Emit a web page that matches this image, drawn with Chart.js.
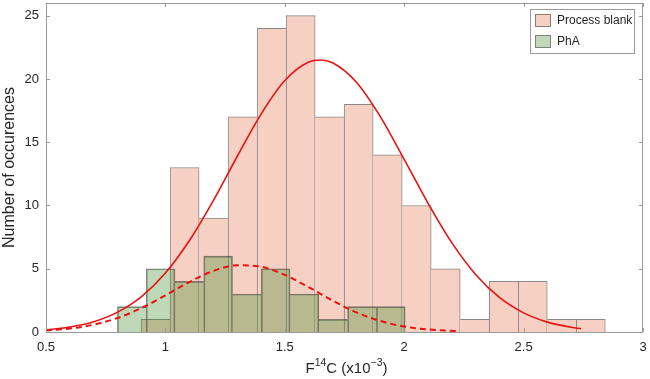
<!DOCTYPE html>
<html>
<head>
<meta charset="utf-8">
<script src="https://cdn.jsdelivr.net/npm/chart.js@4.4.0/dist/chart.umd.min.js"></script>
<style>
  html, body { margin: 0; padding: 0; background: #fff; }
</style>
</head>
<body>
<canvas id="hist" width="650" height="379"></canvas>
<script>
// histogram bins (bin centres, F14C x10^-3) and counts
const blankCenters = [0.9588, 1.0803, 1.2018, 1.3233, 1.4448, 1.5663, 1.6878, 1.8093,
                      1.9308, 2.0523, 2.1738, 2.2953, 2.4168, 2.5383, 2.6598, 2.7813];
const blankCounts  = [1, 13, 9, 17, 24, 25, 17, 18, 14, 10, 5, 1, 4, 4, 1, 1];
const phaCenters   = [0.8593, 0.9798, 1.1003, 1.2208, 1.3413, 1.4618, 1.5823, 1.7028, 1.8233, 1.9438];
const phaCounts    = [2, 5, 4, 6, 3, 5, 3, 1, 2, 2];

// fitted normal curves
const blankFitX = [0.5, 0.6, 0.7, 0.8, 0.9, 1.0, 1.1, 1.2, 1.3, 1.4, 1.5, 1.6, 1.65, 1.7,
                   1.8, 1.9, 2.0, 2.1, 2.2, 2.3, 2.4, 2.5, 2.6, 2.7, 2.74];
const blankFitY = [0.18, 0.39, 0.81, 1.57, 2.80, 4.66, 7.21, 10.36, 13.85, 17.2, 19.87, 21.33, 21.5, 21.28,
                   19.74, 17.02, 13.64, 10.17, 7.04, 4.53, 2.71, 1.51, 0.78, 0.37, 0.27];
const phaFitX = [0.5, 0.6, 0.7, 0.8, 0.9, 1.0, 1.1, 1.2, 1.3, 1.4, 1.5, 1.6, 1.7, 1.8, 1.9, 2.0, 2.1, 2.22];
const phaFitY = [0.12, 0.27, 0.58, 1.11, 1.90, 2.89, 3.95, 4.82, 5.27, 5.16, 4.51, 3.54, 2.48, 1.55, 0.87, 0.44, 0.20, 0.07];

const xTicks = [0.5, 1, 1.5, 2, 2.5, 3];
const yTicks = [0, 5, 10, 15, 20, 25];

// x title pieces: [text, superscript?]
const xTitle = [['F', false], ['14', true], ['C (x10', false], ['\u22123', true], [')', false]];

const FONT = '"Liberation Sans", Arial, Helvetica, sans-serif';
const TXT = '#262626';
const AXIS = '#9a9a9a';
const PINK = 'rgb(246,208,195)';
const GREEN = 'rgba(60,140,40,0.33)';
const EDGE = 'rgba(40,40,40,0.55)';
const RED = 'rgb(232,18,18)';

// only draw a shared edge once
function edges(counts) {
  return (ctx) => {
    const i = ctx.dataIndex;
    const prev = counts[i - 1], next = counts[i + 1];
    return {
      top: 1, bottom: 0,
      left: (prev === undefined || prev <= counts[i]) ? 1 : 0,
      right: (next === undefined || next < counts[i]) ? 1 : 0
    };
  };
}

const pts = (xs, ys) => xs.map((x, i) => ({ x: x, y: ys[i] }));

// box around the plot with inward ticks (matlab style), x title, legend
const frame = {
  id: 'frame',
  afterDraw(chart) {
    const { ctx, chartArea: a, scales } = chart;
    ctx.save();
    ctx.strokeStyle = AXIS;
    ctx.lineWidth = 1;
    ctx.strokeRect(Math.round(a.left) + 0.5, Math.round(a.top) + 0.5,
                   Math.round(a.right - a.left) - 1, Math.round(a.bottom - a.top));
    ctx.beginPath();
    xTicks.forEach(v => {
      const px = Math.round(scales.x.getPixelForValue(v)) + 0.5;
      ctx.moveTo(px, a.bottom); ctx.lineTo(px, a.bottom - 4);
      ctx.moveTo(px, a.top); ctx.lineTo(px, a.top + 4);
    });
    yTicks.forEach(v => {
      const py = Math.round(scales.y.getPixelForValue(v)) + 0.5;
      ctx.moveTo(a.left, py); ctx.lineTo(a.left + 4, py);
      ctx.moveTo(a.right, py); ctx.lineTo(a.right - 4, py);
    });
    ctx.stroke();

    // x axis title with real superscripts
    ctx.fillStyle = TXT;
    ctx.textBaseline = 'alphabetic';
    const fontOf = sup => (sup ? '10.5px ' : '15px ') + FONT;
    let total = 0;
    xTitle.forEach(([t, sup]) => { ctx.font = fontOf(sup); total += ctx.measureText(t).width; });
    let tx = (a.left + a.right) / 2 + 2 - total / 2;
    xTitle.forEach(([t, sup]) => {
      ctx.font = fontOf(sup);
      ctx.fillText(t, tx, sup ? 366 : 373);
      tx += ctx.measureText(t).width;
    });

    // legend
    const lx = 530.5, ly = 9.5, lw = 104, lh = 44;
    ctx.fillStyle = '#fff';
    ctx.fillRect(lx, ly, lw, lh);
    ctx.strokeStyle = AXIS;
    ctx.strokeRect(lx, ly, lw, lh);
    const items = [chart.data.datasets[3], chart.data.datasets[2]];
    items.forEach((ds, k) => {
      const sy = 14.5 + k * 21;
      ctx.fillStyle = ds.backgroundColor;
      ctx.fillRect(535.5, sy, 15, 12);
      ctx.strokeStyle = EDGE;
      ctx.strokeRect(535.5, sy, 15, 12);
      ctx.fillStyle = TXT;
      ctx.font = '12px ' + FONT;
      ctx.textBaseline = 'middle';
      ctx.fillText(ds.label, 557, sy + 6.5);
    });
    ctx.restore();
  }
};

const noPad = s => { s.paddingLeft = 0; s.paddingRight = 0; s.paddingTop = 0; s.paddingBottom = 0; };

new Chart(document.getElementById('hist'), {
  type: 'bar',
  data: {
    datasets: [
      {
        type: 'line', label: 'Process blank fit', data: pts(blankFitX, blankFitY),
        borderColor: RED, borderWidth: 1.6, pointRadius: 0, cubicInterpolationMode: 'monotone',
        order: 0, xAxisID: 'x'
      },
      {
        type: 'line', label: 'PhA fit', data: pts(phaFitX, phaFitY),
        borderColor: RED, borderWidth: 2, borderDash: [6, 4], pointRadius: 0,
        cubicInterpolationMode: 'monotone', order: 0, xAxisID: 'x'
      },
      {
        label: 'PhA', data: pts(phaCenters, phaCounts),
        backgroundColor: GREEN, borderColor: EDGE, borderWidth: edges(phaCounts),
        borderSkipped: false, order: 1, xAxisID: 'x2',
        barPercentage: 1, categoryPercentage: 1, grouped: false
      },
      {
        label: 'Process blank', data: pts(blankCenters, blankCounts),
        backgroundColor: PINK, borderColor: EDGE, borderWidth: edges(blankCounts),
        borderSkipped: false, order: 2, xAxisID: 'x',
        barPercentage: 1, categoryPercentage: 1, grouped: false
      }
    ]
  },
  options: {
    responsive: false,
    animation: false,
    devicePixelRatio: 1,
    layout: { padding: { top: 3, right: 7, left: 0, bottom: 0 } },
    plugins: { legend: { display: false }, tooltip: { enabled: false } },
    scales: {
      x: {
        type: 'linear', min: 0.5, max: 3, offset: false,
        afterBuildTicks: s => { s.ticks = xTicks.map(v => ({ value: v })); },
        afterFit: s => { s.height = 47; noPad(s); },
        grid: { display: false, drawTicks: false, tickLength: 0 },
        border: { display: false },
        ticks: { color: TXT, font: { family: FONT, size: 13 }, padding: 8, maxRotation: 0,
                 callback: v => String(v) }
      },
      x2: {
        type: 'linear', min: 0.5, max: 3, offset: false, display: false,
        afterBuildTicks: s => { s.ticks = xTicks.map(v => ({ value: v })); }
      },
      y: {
        min: 0, max: 26,
        afterBuildTicks: s => { s.ticks = yTicks.map(v => ({ value: v })); },
        afterFit: s => { s.width = 46; noPad(s); },
        grid: { display: false, drawTicks: false, tickLength: 0 },
        border: { display: false },
        ticks: { color: TXT, font: { family: FONT, size: 13 }, padding: 7 },
        title: {
          display: true, text: 'Number of occurences', color: TXT,
          font: { family: FONT, size: 16 }, padding: { top: 0, bottom: 0 }
        }
      }
    }
  },
  plugins: [frame]
});
</script>
</body>
</html>
